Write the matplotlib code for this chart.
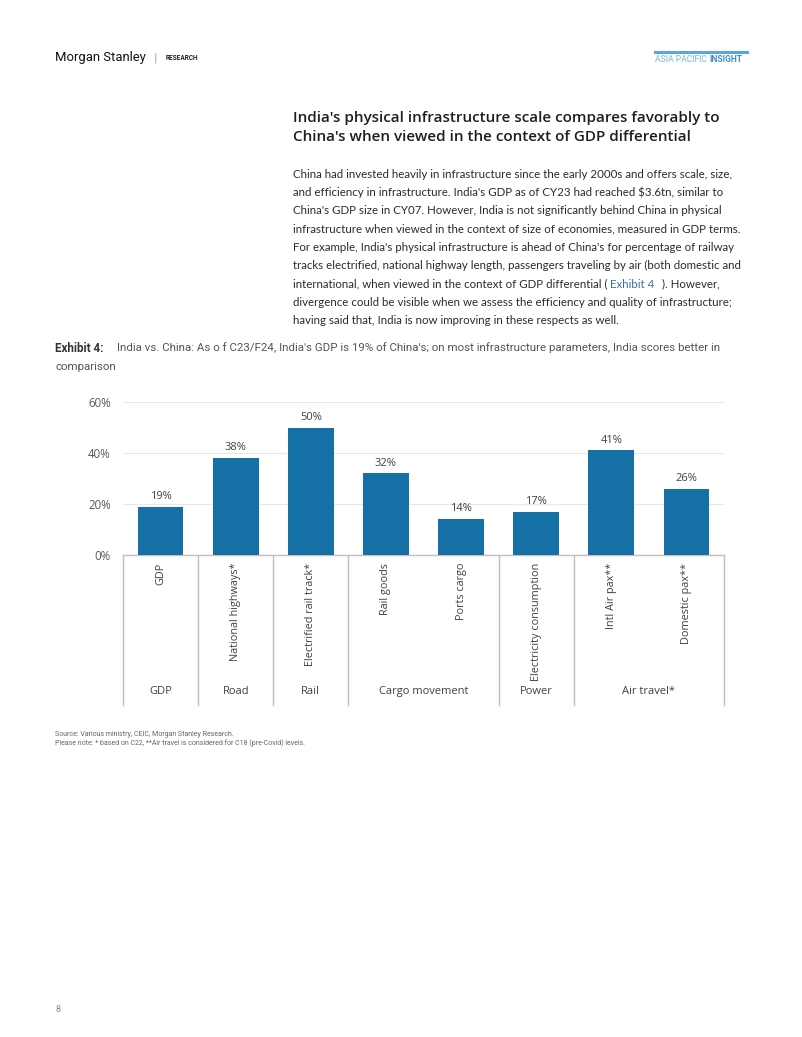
import matplotlib
matplotlib.use("Agg")
import matplotlib.pyplot as plt
import matplotlib.transforms as mtransforms

# chart data
categories = ["GDP", "National highways*", "Electrified rail track*", "Rail goods",
              "Ports cargo", "Electricity consumption", "Intl Air pax**", "Domestic pax**"]
values = [19, 38, 50, 32, 14, 17, 41, 26]
groups = ["GDP", "Road", "Rail", "Cargo movement", "Power", "Air travel*"]
group_sizes = [1, 1, 1, 2, 1, 2]
yticks = [0, 20, 40, 60]

title_lines = ["India's physical infrastructure scale compares favorably to",
               "China's when viewed in the context of GDP differential"]
body_lines = [
    "China had invested heavily in infrastructure since the early 2000s and offers scale, size,",
    "and efficiency in infrastructure. India's GDP as of CY23 had reached $3.6tn, similar to",
    "China's GDP size in CY07. However, India is not significantly behind China in physical",
    "infrastructure when viewed in the context of size of economies, measured in GDP terms.",
    "For example, India's physical infrastructure is ahead of China's for percentage of railway",
    "tracks electrified, national highway length, passengers traveling by air (both domestic and",
    None,
    "divergence could be visible when we assess the efficiency and quality of infrastructure;",
    "having said that, India is now improving in these respects as well.",
]
caption = ("India vs. China: As o f C23/F24, India's GDP is 19% of China's; "
           "on most infrastructure parameters, India scores better in")

BLUE = "#1570a6"
W, H = 802, 1037
fig = plt.figure(figsize=(W / 100, H / 100), dpi=100)
fig.patch.set_facecolor("white")
renderer = fig.canvas.get_renderer()


def fx(px):
    return px / W


def fy(py):
    return 1 - py / H


def fit(text, target_px, **kw):
    # font size that makes text span target_px wide
    t = fig.text(0, 0, text, fontsize=10, **kw)
    w = t.get_window_extent(renderer).width
    t.remove()
    return 10 * target_px / w


def width_px(t):
    return t.get_window_extent(renderer).width


# header
ms_kw = dict(family="Roboto", color="#111111", va="center")
fig.text(fx(55), fy(58), "Morgan Stanley", fontsize=fit("Morgan Stanley", 90, **ms_kw), **ms_kw)
fig.text(fx(155), fy(58), "|", fontsize=8, color="#999999", va="center", ha="center")
rs_kw = dict(family="Roboto", weight="bold", color="#222222", va="center")
fig.text(fx(166), fy(58), "RESEARCH", fontsize=fit("RESEARCH", 33, **rs_kw), **rs_kw)
fig.add_artist(plt.Line2D([fx(655), fx(747)], [fy(51.5), fy(51.5)], color="#5aa7dd", lw=2.2))
ap_kw = dict(family="Roboto", color="#8cc0e6", va="center", weight="medium")
in_kw = dict(family="Roboto", weight="bold", color="#3d8fd0", va="center")
hsize = fit("ASIA PACIFIC INSIGHT", 89, **in_kw)
ta = fig.text(fx(655), fy(59), "ASIA PACIFIC", fontsize=hsize, **ap_kw)
fig.text(fx(655) + (width_px(ta) + 3) / W, fy(59), "INSIGHT", fontsize=hsize, **in_kw)

# title
tt_kw = dict(family="Open Sans", weight="semibold", color="#1f1f1f", va="center")
tsize = fit(title_lines[0], 427, **tt_kw)
for i, line in enumerate(title_lines):
    fig.text(fx(293), fy(118 + 19 * i), line, fontsize=tsize, **tt_kw)

# body
body_kw = dict(family="Lato", color="#2b2b2b", va="center")
body_kw["fontsize"] = fit(body_lines[0], 437, **body_kw)
for i, line in enumerate(body_lines):
    y = fy(174 + 18.35 * i)
    if line is not None:
        fig.text(fx(293), y, line, **body_kw)
    else:
        parts = [("international, when viewed in the context of GDP differential ( ", "#2b2b2b", 0),
                 ("Exhibit 4", "#3b6fb0", 4), (" ). However,", "#2b2b2b", 0)]
        xpos = fx(293)
        for txt, col, gap in parts:
            kw = dict(body_kw)
            kw["color"] = col
            t = fig.text(xpos, y, txt, **kw)
            xpos = xpos + (width_px(t) + gap) / W

# caption
fig.text(fx(55), fy(348), "Exhibit 4:", fontsize=8.4, family="Roboto", weight="bold",
         color="#333333", va="center")
cap_kw = dict(family="Roboto", color="#555555", va="center")
csize = fit(caption, 603, **cap_kw)
fig.text(fx(117), fy(348), caption, fontsize=csize, **cap_kw)
fig.text(fx(55), fy(367), "comparison", fontsize=csize, **cap_kw)

# chart
ax = fig.add_axes([fx(123), fy(555), fx(724) - fx(123), (555 - 402) / H])
x = list(range(len(categories)))
ax.bar(x, values, width=0.61, color=BLUE, zorder=3)
ax.set_xlim(-0.5, len(categories) - 0.5)
ax.set_ylim(0, 60)
ax.set_yticks(yticks)
ax.set_yticklabels([f"{v}%" for v in yticks])
ax.tick_params(axis="y", length=0, pad=8.6, labelsize=8.3, labelcolor="#595959")
ax.set_xticks([])
for s in ["top", "right", "left"]:
    ax.spines[s].set_visible(False)
ax.spines["bottom"].set_color("#bfbfbf")
ax.spines["bottom"].set_linewidth(1)
ax.grid(axis="y", color="#e8e8e8", lw=0.8, zorder=0)
ax.set_axisbelow(True)
for label in ax.get_yticklabels():
    label.set_family("Open Sans")

for xi, v in zip(x, values):
    ax.annotate(f"{v}%", (xi, v), xytext=(0, 3.5), textcoords="offset points",
                ha="center", va="bottom", fontsize=8, family="Open Sans", color="#404040")

trans = mtransforms.blended_transform_factory(ax.transData, ax.transAxes)
for xi, name in zip(x, categories):
    ax.text(xi, -0.05, name, rotation=90, ha="center", va="top", transform=trans,
            fontsize=7.8, family="Open Sans", color="#404040")

start = -0.5
bounds = [start]
for name, n in zip(groups, group_sizes):
    ax.text(start + n / 2, -0.895, name, ha="center", va="center", transform=trans,
            fontsize=8, family="Open Sans", color="#404040")
    start += n
    bounds.append(start)
for b in bounds:
    ax.plot([b, b], [0, -0.98], transform=trans, color="#bfbfbf", lw=1, clip_on=False)

# footnotes
fn_kw = dict(family="Roboto", color="#666666", va="center")
fn2 = "Please note: * based on C22, **Air travel is considered for C18 (pre-Covid) levels."
fsize = fit(fn2, 252, **fn_kw)
fig.text(fx(55), fy(734), "Source: Various ministry, CEIC, Morgan Stanley Research.", fontsize=fsize, **fn_kw)
fig.text(fx(55), fy(743), fn2, fontsize=fsize, **fn_kw)

fig.text(fx(55), fy(1010), "8", fontsize=6.5, family="Roboto", color="#888888", va="center")

fig.savefig("out.png", dpi=100, facecolor="white")
